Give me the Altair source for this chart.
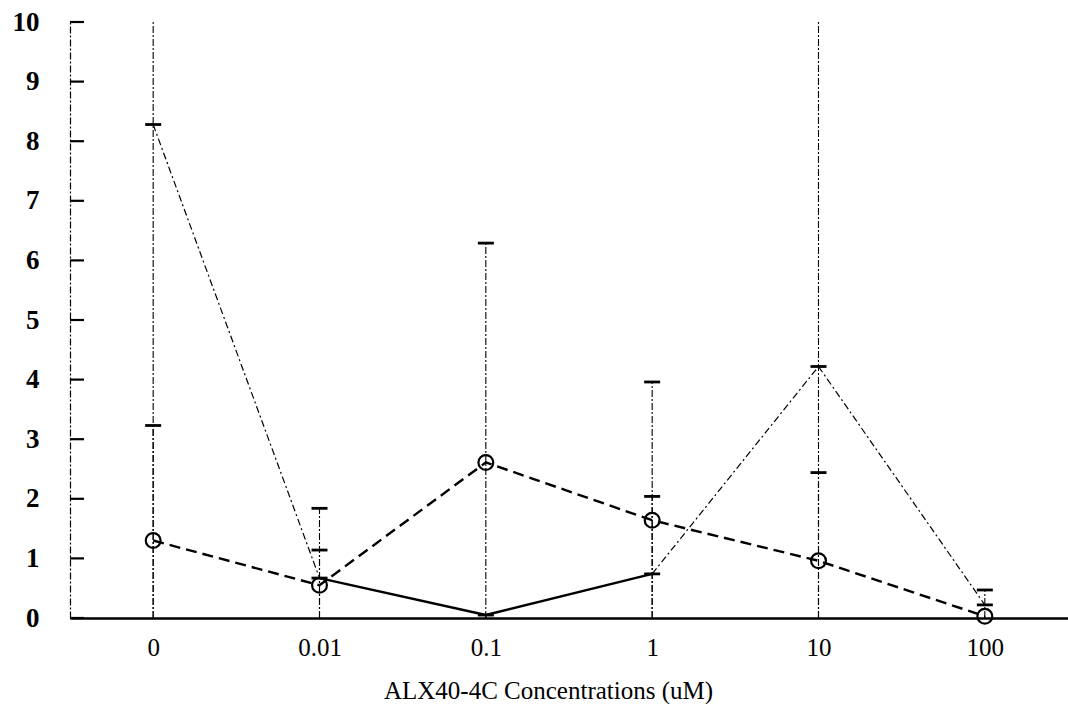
import altair as alt
import pandas as pd

concentrations = ["0", "0.01", "0.1", "1", "10", "100"]

# series A: solid/dash-dot line with "+" markers
series_a_mean = [8.28, 0.67, 0.05, 0.74, 4.22, 0.22]
series_a_upper = [10.0, 1.14, 0.05, 2.04, 10.0, 0.47]
series_a_lower = [0.0, 0.0, 0.0, 0.0, 0.0, 0.0]

# series B: dashed line with open circles
series_b_mean = [1.30, 0.55, 2.61, 1.64, 0.96, 0.03]
series_b_upper = [3.23, 1.84, 6.29, 3.96, 2.44, 0.03]
series_b_lower = [0.0, 0.0, 0.0, 0.0, 0.0, 0.0]

y_ticks = [0, 1, 2, 3, 4, 5, 6, 7, 8, 9, 10]
solid_segments_a = [1, 2]  # segment index i joins concentrations[i] -> [i+1]

FONT = "Liberation Serif"

x_enc = alt.X(
    "conc:N",
    sort=concentrations,
    scale=alt.Scale(type="point", domain=concentrations, padding=0.5),
    axis=alt.Axis(
        title="ALX40-4C Concentrations (uM)",
        ticks=False,
        grid=False,
        domainColor="black",
        domainWidth=2.5,
        labelFont=FONT,
        labelFontSize=25,
        labelColor="black",
        labelPadding=17,
        labelAngle=0,
        titleFont=FONT,
        titleFontSize=25,
        titleFontWeight="normal",
        titleColor="black",
        titleX=478,
        titleY=80,
        titleBaseline="alphabetic",
    ),
)

y_scale = alt.Scale(domain=[0, 10], nice=False, zero=True)
y_axis = alt.Axis(
    values=y_ticks,
    format="d",
    ticks=False,
    grid=False,
    title=None,
    domainColor="black",
    domainWidth=1.2,
    domainDash=[7, 2, 2, 2],
    labelFont=FONT,
    labelFontSize=27,
    labelFontWeight="bold",
    labelColor="black",
    labelPadding=31,
)

# segments of series A
seg_rows = []
for i in range(len(concentrations) - 1):
    style = "solid" if i in solid_segments_a else "thin"
    seg_rows.append({"seg": i, "conc": concentrations[i], "val": series_a_mean[i], "style": style})
    seg_rows.append({"seg": i, "conc": concentrations[i + 1], "val": series_a_mean[i + 1], "style": style})
seg_df = pd.DataFrame(seg_rows)

b_df = pd.DataFrame({"conc": concentrations, "val": series_b_mean})
a_df = pd.DataFrame({"conc": concentrations, "val": series_a_mean})

err_rows = []
for c, lo, hi in zip(concentrations, series_a_lower, series_a_upper):
    err_rows.append({"conc": c, "lo": lo, "hi": hi})
for c, lo, hi in zip(concentrations, series_b_lower, series_b_upper):
    err_rows.append({"conc": c, "lo": lo, "hi": hi})
err_df = pd.DataFrame(err_rows)

cap_rows = []
for c, m, hi in zip(concentrations, series_a_mean, series_a_upper):
    if hi > m and hi < 10:
        cap_rows.append({"conc": c, "cap": hi})
for c, m, hi in zip(concentrations, series_b_mean, series_b_upper):
    if hi > m and hi < 10:
        cap_rows.append({"conc": c, "cap": hi})
cap_df = pd.DataFrame(cap_rows)

ytick_df = pd.DataFrame({"t": y_ticks})

err_layer = alt.Chart(err_df).mark_rule(
    color="black", strokeWidth=1.1, strokeDash=[7, 2, 2, 2]
).encode(
    x=x_enc,
    y=alt.Y("lo:Q", scale=y_scale, axis=y_axis),
    y2="hi:Q",
)

caps_layer = alt.Chart(cap_df).mark_tick(
    color="black", thickness=2.8, size=16, orient="horizontal", opacity=1
).encode(x=x_enc, y=alt.Y("cap:Q", scale=y_scale))

thin_a = alt.Chart(seg_df[seg_df["style"] == "thin"]).mark_line(
    color="black", strokeWidth=1.2, strokeDash=[7, 3, 2, 3]
).encode(x=x_enc, y=alt.Y("val:Q", scale=y_scale), detail="seg:N")

solid_a = alt.Chart(seg_df[seg_df["style"] == "solid"]).mark_line(
    color="black", strokeWidth=2.4
).encode(x=x_enc, y=alt.Y("val:Q", scale=y_scale), detail="seg:N")

line_b = alt.Chart(b_df).mark_line(
    color="black", strokeWidth=2.4, strokeDash=[11, 6]
).encode(x=x_enc, y=alt.Y("val:Q", scale=y_scale))

marks_a = alt.Chart(a_df).mark_tick(
    color="black", thickness=2.8, size=16, orient="horizontal", opacity=1
).encode(x=x_enc, y=alt.Y("val:Q", scale=y_scale))

marks_b = alt.Chart(b_df).mark_point(
    shape="circle", filled=False, color="black", size=220, strokeWidth=2.2, opacity=1
).encode(x=x_enc, y=alt.Y("val:Q", scale=y_scale))

ytick_layer = alt.Chart(ytick_df).mark_rule(color="black", strokeWidth=2.2).encode(
    y=alt.Y("t:Q", scale=y_scale),
    x=alt.value(0),
    x2=alt.value(14),
)

chart = alt.layer(
    err_layer, caps_layer, thin_a, solid_a, line_b, marks_a, marks_b, ytick_layer
).properties(
    width=998,
    height=596,
    padding={"left": 70, "top": 22, "right": 0, "bottom": 86},
    autosize=alt.AutoSizeParams(type="none"),
    background="white",
).configure_view(stroke=None)

chart.save("out.html", embed_options={"renderer": "svg", "actions": False})
